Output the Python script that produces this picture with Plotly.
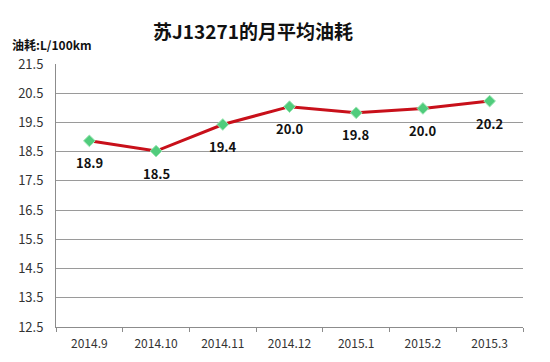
import plotly.graph_objects as go

months = ["2014.9", "2014.10", "2014.11", "2014.12", "2015.1", "2015.2", "2015.3"]
consumption = [18.87, 18.52, 19.43, 20.04, 19.83, 19.98, 20.23]
title_text = "苏J13271的月平均油耗"
y_label = "油耗:L/100km"

FONT = "Noto Sans CJK SC, Open Sans, sans-serif"

# page body has an 8px default margin; figure is sized to fit the 550x362 window
W, H = 542, 354
ML, MR, MT, MB = 48, 27, 56, 35
PW, PH = W - ML - MR, H - MT - MB

fig = go.Figure()
fig.add_trace(go.Scatter(
    x=months, y=consumption, mode="lines+markers",
    line=dict(color="#c8101a", width=3),
    marker=dict(symbol="diamond", size=9, color="#50cc7c",
                line=dict(color="#9be6b4", width=1)),
    hoverinfo="skip", showlegend=False,
))

annotations = []
for i, v in enumerate(consumption):
    annotations.append(dict(x=i, y=v, xref="x", yref="y", text=f"{v:.1f}",
                            showarrow=False, yshift=-22,
                            font=dict(family=FONT, size=13, color="#111111", weight="bold")))
annotations.append(dict(x=(2 - ML) / PW, y=1 + (MT - 37) / PH, xref="paper", yref="paper",
                        text=y_label, showarrow=False, xanchor="left", yanchor="middle",
                        font=dict(family=FONT, size=12, color="#111111", weight="bold")))

fig.update_layout(
    width=W, height=H,
    margin=dict(l=ML, r=MR, t=MT, b=MB),
    paper_bgcolor="white", plot_bgcolor="white",
    title=dict(text=title_text, x=245/W, xanchor="center", y=1 - 24/H, yanchor="middle",
               font=dict(family=FONT, size=19, color="#111111", weight="bold")),
    annotations=annotations,
    font=dict(family=FONT, color="#333333"),
)
fig.update_xaxes(type="category", range=[-0.5, 6.5], showgrid=False,
                 showline=True, linecolor="#8c8c8c", linewidth=1,
                 ticks="outside", tickson="boundaries", ticklen=4, tickcolor="#8c8c8c",
                 ticklabelstandoff=6, automargin=False,
                 tickfont=dict(family=FONT, size=12, color="#333333"))
fig.update_yaxes(range=[12.5, 21.5], tick0=12.5, dtick=1, showgrid=True,
                 gridcolor="#9a9a9a", gridwidth=1, zeroline=False,
                 showline=True, linecolor="#8c8c8c", linewidth=1,
                 tickformat=".1f", ticks="", ticklabelstandoff=9, automargin=False,
                 tickfont=dict(family=FONT, size=13, color="#333333"))

fig.write_html("out.html")
